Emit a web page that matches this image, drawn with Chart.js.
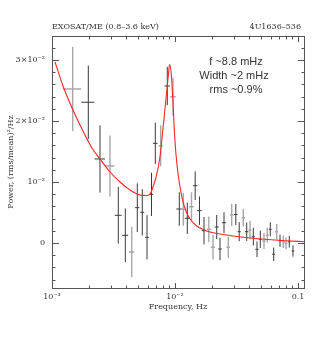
<!DOCTYPE html>
<html>
<head>
<meta charset="utf-8">
<script src="https://cdn.jsdelivr.net/npm/chart.js@4.4.0/dist/chart.umd.min.js"></script>
<style>
    html, body { margin: 0; padding: 0; background: #fff; }
    canvas { display: block; }
</style>
</head>
<body>
<canvas id="pdsChart" width="316" height="347"></canvas>
<script>
// Power density spectrum, two observations (dark / light bins)
const darkFreq = [0.001973, 0.002456, 0.003459, 0.003945, 0.004937, 0.005421, 0.005922, 0.00644,
    0.006916, 0.008657, 0.01084, 0.01259, 0.01459, 0.01581, 0.01721, 0.02183, 0.02322, 0.02503,
    0.03121, 0.03327, 0.03828, 0.04332, 0.04642, 0.04937, 0.05953, 0.06345, 0.07141, 0.08495, 0.09106];
const darkPower = [0.02307, 0.01377, 0.00454, 0.00126, 0.00579, 0.00503, 0.00093, 0.00798,
    0.01634, 0.02574, 0.00557, 0.00405, 0.00939, 0.0053, 0.00202, 0.00262, -0.00098, 0.00333,
    0.00467, 0.00185, 0.00185, 0.00103, -0.00103, 0.00061, 0.00225, -0.00185, 0.00038, 0.00021, -0.00131];
const darkErr = [0.00602, 0.00552, 0.00465, 0.00438, 0.00399, 0.0038, 0.00363, 0.00355,
    0.0034, 0.00314, 0.00275, 0.00256, 0.00234, 0.00233, 0.00225, 0.00197, 0.00184, 0.00172,
    0.00172, 0.00156, 0.0015, 0.00145, 0.00128, 0.00142, 0.00115, 0.0011, 0.00101, 0.00096, 0.00093];
const darkHalfBin = [0.00024, 0.00024, 0.00022, 0.00022, 0.0002, 0.0002, 0.0002, 0.0002,
    0.0003, 0.00045, 0.0006, 0.0006, 0.0006, 0.0007, 0.0007, 0.0008, 0.0008, 0.0009,
    0.001, 0.001, 0.0012, 0.0013, 0.0014, 0.0014, 0.0016, 0.0017, 0.0019, 0.0021, 0.0022];

const lightFreq = [0.001473, 0.002961, 0.004448, 0.00765, 0.009632, 0.01168, 0.01362, 0.01883,
    0.02037, 0.02712, 0.02891, 0.03592, 0.04073, 0.05292, 0.05628, 0.06711, 0.07595, 0.07987];
const lightPower = [0.02525, 0.01262, -0.00148, 0.01595, 0.02398, 0.00552, 0.00595, 0.00225,
    -0.0007, -0.0007, 0.00459, 0.00415, 0.00213, 0.00033, 0.00126, 0.00185, 0.00021, -0.00005];
const lightErr = [0.00691, 0.005, 0.00415, 0.00336, 0.00311, 0.00269, 0.00238, 0.0021,
    0.00202, 0.00172, 0.00186, 0.00145, 0.0015, 0.00131, 0.00123, 0.00128, 0.00103, 0.00096];
const lightHalfBin = [0.00025, 0.00026, 0.00022, 0.0003, 0.0005, 0.0006, 0.0006, 0.0007,
    0.0008, 0.0009, 0.001, 0.0011, 0.0012, 0.0015, 0.0016, 0.0018, 0.002, 0.002];

// Fitted model (continuum + QPO), sampled off the plot
const modelFreq = [0.001058, 0.001229, 0.001481, 0.001786, 0.002114, 0.002456, 0.002961, 0.003571,
    0.004306, 0.005192, 0.00581, 0.006262, 0.006624, 0.007047, 0.007507, 0.007838, 0.008247, 0.00861,
    0.008889, 0.009022, 0.00933, 0.009632, 0.009945, 0.01038, 0.01092, 0.01161, 0.01235, 0.01324,
    0.01501, 0.01698, 0.01926, 0.02322, 0.02961, 0.04073, 0.05703, 0.07839, 0.114];
const modelPower = [0.02967, 0.02574, 0.0218, 0.01836, 0.01557, 0.01377, 0.01164, 0.01,
    0.00869, 0.00787, 0.00779, 0.00803, 0.00918, 0.01098, 0.01377, 0.01716, 0.02152, 0.02536,
    0.02808, 0.02926, 0.0277, 0.02295, 0.01738, 0.01279, 0.00951, 0.00677, 0.00513, 0.00393,
    0.00279, 0.00221, 0.0018, 0.00148, 0.00115, 0.00082, 0.00057, 0.00038, 0.00021];

const xTickValues = [0.001, 0.01, 0.1];
const xTickLabels = ["10⁻³", "10⁻²", "0.1"];
const yTickValues = [0, 0.01, 0.02, 0.03];
const yTickLabels = ["0", "10⁻²", "2×10⁻²", "3×10⁻²"];

const X_MIN = 0.001, X_MAX = 0.114;
const Y_MIN = -0.00754, Y_MAX = 0.03393;

const serif = "'DejaVu Serif', serif";
const sans = "'Liberation Sans', Arial, sans-serif";

function toPoints(xs, ys) {
    return xs.map((x, i) => ({ x: x, y: ys[i] }));
}

// error bars: vertical = power error, horizontal = bin width
const errorBarPlugin = {
    id: "errorBars",
    beforeDatasetsDraw(chart) {
        const ctx = chart.ctx;
        const xs = chart.scales.x;
        const ys = chart.scales.y;
        chart.data.datasets.forEach(ds => {
            if (!ds.yErr) return;
            ctx.save();
            ctx.strokeStyle = ds.barColor;
            ctx.lineWidth = ds.barWidth;
            ds.data.forEach((p, i) => {
                const px = xs.getPixelForValue(p.x);
                const py = ys.getPixelForValue(p.y);
                const top = ys.getPixelForValue(p.y + ds.yErr[i]);
                const bot = ys.getPixelForValue(p.y - ds.yErr[i]);
                const left = xs.getPixelForValue(p.x - ds.xErr[i]);
                const right = xs.getPixelForValue(p.x + ds.xErr[i]);
                ctx.beginPath();
                ctx.moveTo(px, top);
                ctx.lineTo(px, bot);
                ctx.moveTo(left, py);
                ctx.lineTo(right, py);
                ctx.stroke();
            });
            ctx.restore();
        });
    }
};

// box, inward ticks and all free text
const framePlugin = {
    id: "frame",
    afterDraw(chart) {
        const ctx = chart.ctx;
        const a = chart.chartArea;
        const xs = chart.scales.x;
        const ys = chart.scales.y;

        ctx.save();
        ctx.strokeStyle = "#555";
        ctx.lineWidth = 1;
        ctx.strokeRect(a.left + 0.5, a.top + 0.5, a.right - a.left - 1, a.bottom - a.top - 1);

        ctx.beginPath();
        for (let d = -3; d <= -1; d++) {
            for (let m = 1; m <= 9; m++) {
                const v = m * Math.pow(10, d);
                if (v < X_MIN || v > X_MAX) continue;
                const px = Math.round(xs.getPixelForValue(v)) + 0.5;
                const len = m === 1 ? 6 : 3.5;
                ctx.moveTo(px, a.bottom);
                ctx.lineTo(px, a.bottom - len);
                ctx.moveTo(px, a.top);
                ctx.lineTo(px, a.top + len);
            }
        }
        for (let k = -3; k <= 16; k++) {
            const v = k * 0.002;
            const py = Math.round(ys.getPixelForValue(v)) + 0.5;
            const len = k % 5 === 0 ? 7 : 3.5;
            ctx.moveTo(a.left, py);
            ctx.lineTo(a.left + len, py);
            ctx.moveTo(a.right, py);
            ctx.lineTo(a.right - len, py);
        }
        ctx.stroke();

        ctx.fillStyle = "#333";
        ctx.font = "8px " + serif;
        ctx.textBaseline = "middle";
        ctx.textAlign = "left";
        ctx.fillText("EXOSAT/ME (0.8–3.6 keV)", a.left, 27);
        ctx.textAlign = "right";
        ctx.fillText("4U1636–536", 301, 27);

        ctx.textAlign = "center";
        ctx.fillText("Frequency, Hz", 178, 307);

        ctx.save();
        ctx.translate(11, 162);
        ctx.rotate(-Math.PI / 2);
        ctx.fillText("Power, (rms/mean)²/Hz", 0, 0);
        ctx.restore();

        ctx.font = "11px " + sans;
        ctx.fillText("f ~8.8 mHz", 236, 62);
        ctx.fillText("Width ~2 mHz", 234, 76);
        ctx.fillText("rms ~0.9%", 236, 90);
        ctx.restore();
    }
};

document.addEventListener("DOMContentLoaded", () => {
    const ctx = document.getElementById("pdsChart").getContext("2d");

    new Chart(ctx, {
        type: "line",
        data: {
            datasets: [
                {
                    label: "obs A",
                    data: toPoints(darkFreq, darkPower),
                    yErr: darkErr,
                    xErr: darkHalfBin,
                    barColor: "#3a3a3a",
                    barWidth: 1,
                    showLine: false,
                    pointRadius: 0
                },
                {
                    label: "obs B",
                    data: toPoints(lightFreq, lightPower),
                    yErr: lightErr,
                    xErr: lightHalfBin,
                    barColor: "#a8a8a8",
                    barWidth: 1.4,
                    showLine: false,
                    pointRadius: 0
                },
                {
                    label: "model",
                    data: toPoints(modelFreq, modelPower),
                    borderColor: "#ff2626",
                    borderWidth: 1.1,
                    pointRadius: 0,
                    fill: false,
                    cubicInterpolationMode: "monotone"
                }
            ]
        },
        options: {
            responsive: false,
            animation: false,
            layout: { padding: { left: 0, right: 11, top: 36, bottom: 0 } },
            plugins: {
                legend: { display: false },
                tooltip: { enabled: false }
            },
            scales: {
                x: {
                    type: "logarithmic",
                    min: X_MIN,
                    max: X_MAX,
                    grid: { display: false, drawTicks: false },
                    border: { display: false },
                    afterBuildTicks: s => { s.ticks = xTickValues.map(v => ({ value: v })); },
                    afterFit: s => { s.height = 58; },
                    ticks: {
                        padding: 3,
                        autoSkip: false,
                        maxRotation: 0,
                        minRotation: 0,
                        color: "#333",
                        font: { family: serif, size: 8 },
                        callback: (v, i) => xTickLabels[i]
                    }
                },
                y: {
                    min: Y_MIN,
                    max: Y_MAX,
                    grid: { display: false, drawTicks: false },
                    border: { display: false },
                    afterBuildTicks: s => { s.ticks = yTickValues.map(v => ({ value: v })); },
                    afterFit: s => { s.width = 52; },
                    ticks: {
                        padding: 7,
                        color: "#333",
                        font: { family: serif, size: 8 },
                        callback: (v, i) => yTickLabels[i]
                    }
                }
            }
        },
        plugins: [errorBarPlugin, framePlugin]
    });
});
</script>
</body>
</html>
